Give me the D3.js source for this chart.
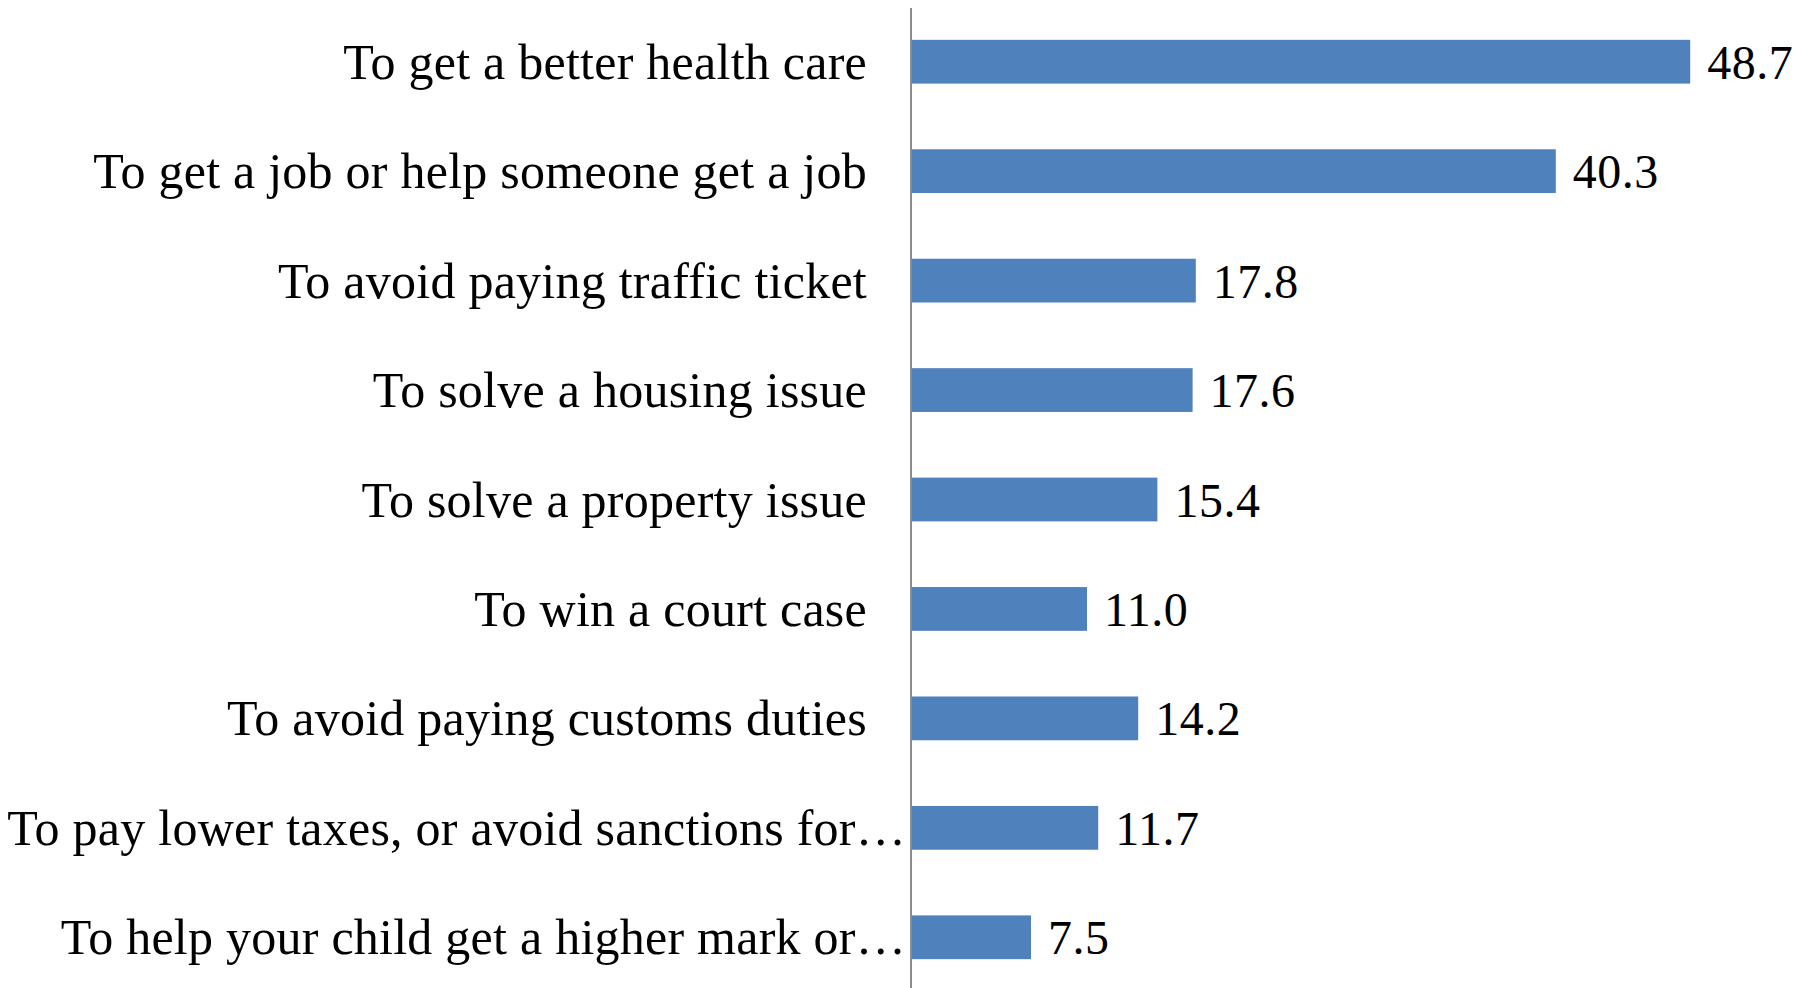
<!DOCTYPE html>
<html>
<head>
<meta charset="utf-8">
<script src="https://cdn.jsdelivr.net/npm/d3@7"></script>
<style>
  html, body { margin: 0; padding: 0; background: #fff; }
  svg { display: block; }
</style>
</head>
<body>
<svg id="chart" width="1810" height="988"></svg>
<script>
// Reasons given for informal payments (%)
const categories = [
  "To get a better health care",
  "To get a job or help someone get a job",
  "To avoid paying traffic ticket",
  "To solve a housing issue",
  "To solve a property issue",
  "To win a court case",
  "To avoid paying customs duties",
  "To pay lower taxes, or avoid sanctions for…",
  "To help your child get a higher mark or…"
];
const values = [48.7, 40.3, 17.8, 17.6, 15.4, 11.0, 14.2, 11.7, 7.5];

const svg = d3.select("#chart");
const axisX = 911;
const fontFamily = "'Liberation Serif', 'DejaVu Serif', serif";

const x = d3.scaleLinear().domain([0, 50]).range([axisX, axisX + 800]);
const y = d3.scaleBand().domain(categories).range([7, 992]).paddingInner(0.6).paddingOuter(0.3);

const rows = svg.append("g").selectAll("g")
  .data(categories.map((c, i) => ({ c, v: values[i] })))
  .join("g");

rows.append("rect")
  .attr("x", x(0))
  .attr("y", d => y(d.c))
  .attr("width", d => x(d.v) - x(0))
  .attr("height", y.bandwidth())
  .attr("fill", "#4F81BD");

// value labels
rows.append("text")
  .attr("x", d => x(d.v) + 17)
  .attr("y", d => y(d.c) + y.bandwidth() / 2 + 17)
  .attr("font-family", fontFamily)
  .attr("font-size", 48)
  .attr("letter-spacing", 0.5)
  .attr("fill", "#000")
  .text(d => d.v.toFixed(1));

// category labels
rows.append("text")
  .attr("x", d => d.c.endsWith("…") ? axisX - 5 : axisX - 44)
  .attr("y", d => y(d.c) + y.bandwidth() / 2 + 17)
  .attr("text-anchor", "end")
  .attr("font-family", fontFamily)
  .attr("font-size", 50)
  .attr("letter-spacing", 0.25)
  .attr("fill", "#000")
  .text(d => d.c);

// vertical category axis
svg.append("line")
  .attr("x1", axisX).attr("x2", axisX)
  .attr("y1", 8).attr("y2", 988)
  .attr("stroke", "#8c8c8c")
  .attr("stroke-width", 2);
</script>
</body>
</html>
